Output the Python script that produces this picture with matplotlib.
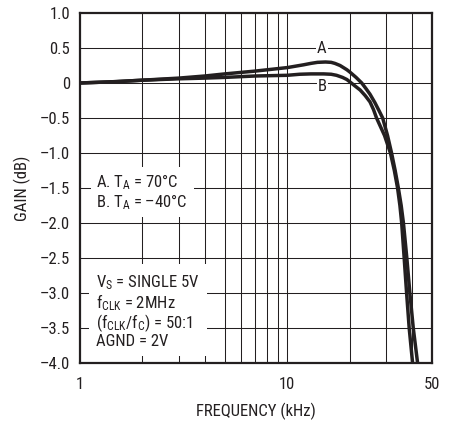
import matplotlib
matplotlib.use("Agg")
import matplotlib.pyplot as plt
from matplotlib import font_manager
from matplotlib.ticker import FixedLocator, NullFormatter

# pick a condensed sans, similar to the datasheet face
names = {f.name for f in font_manager.fontManager.ttflist}
prefs = ["Liberation Sans Narrow", "Roboto Condensed", "Archivo Narrow", "PT Sans Narrow",
         "IBM Plex Sans Condensed", "Fira Sans Condensed", "Sofia Sans Semi Condensed",
         "Sofia Sans Condensed", "Liberation Sans"]
FONT = next(p for p in prefs if p in names or p == "Liberation Sans")
plt.rcParams["font.family"] = [FONT, "DejaVu Sans"]
plt.rcParams["mathtext.fontset"] = "custom"
plt.rcParams["mathtext.rm"] = FONT
plt.rcParams["mathtext.it"] = FONT

INK = "#231f20"
FS = 12
MINUS = "\u2013"

# curve A: TA = 70C
freq_a = [1, 1.5, 2, 3, 4, 5, 7, 10, 12, 13, 14, 15.3, 16.3, 17, 18, 19.4, 20, 21.5, 22.9,
          24.0, 25.1, 26.5, 27.8, 28.9, 30.5, 31.9, 33.2, 34.4, 35.5, 36.4, 37.8, 39.1,
          40.6, 42.6]
gain_a = [0.0, 0.02, 0.04, 0.07, 0.10, 0.13, 0.17, 0.22, 0.26, 0.28, 0.295, 0.30, 0.295,
          0.28, 0.25, 0.19, 0.16, 0.08, 0.0, -0.08, -0.16, -0.28, -0.4, -0.5, -0.75, -1.0,
          -1.25, -1.5, -1.75, -2.0, -2.5, -3.0, -3.5, -4.0]

# curve B: TA = -40C
freq_b = [1, 1.5, 2, 3, 4, 5, 7, 10, 11.5, 13, 15, 16.3, 17.3, 18.5, 19.4, 20, 21.2, 22.5,
          23.8, 25.1, 26.1, 27.0, 29.5, 31.5, 32.9, 34.1, 35.0, 35.7, 36.7, 37.7, 38.8,
          40.3]
gain_b = [0.0, 0.02, 0.04, 0.06, 0.07, 0.08, 0.10, 0.11, 0.125, 0.13, 0.13, 0.125, 0.11,
          0.08, 0.05, 0.02, -0.04, -0.1, -0.18, -0.27, -0.38, -0.5, -0.75, -1.0, -1.25,
          -1.5, -1.75, -2.0, -2.5, -3.0, -3.5, -4.0]

y_ticks = [1.0, 0.5, 0, -0.5, -1.0, -1.5, -2.0, -2.5, -3.0, -3.5, -4.0]
y_labels = ["1.0", "0.5", "0"] + [MINUS + f"{abs(v):.1f}" for v in y_ticks[3:]]
x_ticks = [1, 10, 50]
x_labels = ["1", "10", "50"]
x_grid = [2, 3, 4, 5, 6, 7, 8, 9, 10, 20, 30, 40]

legend_text = ("A. T$_\\mathregular{A}$ = 70\u00b0C\n"
               "B. T$_\\mathregular{A}$ = " + MINUS + "40\u00b0C")
cond_text = ("V$_\\mathregular{S}$ = SINGLE 5V\n"
             "f$_\\mathregular{CLK}$ = 2MHz\n"
             "(f$_\\mathregular{CLK}$/f$_\\mathregular{C}$) = 50:1\n"
             "AGND = 2V")

fig = plt.figure(figsize=(4.57, 4.21), dpi=100)
ax = fig.add_axes([80 / 457, 58 / 421, 352 / 457, 350 / 421])

ax.set_xscale("log")
ax.set_xlim(1, 50)
ax.set_ylim(-4.0, 1.0)

# grid
for gx in x_grid:
    ax.axvline(gx, color=INK, lw=0.75, zorder=1)
for gy in y_ticks[1:-1]:
    ax.axhline(gy, color=INK, lw=0.75, zorder=1)

ax.plot(freq_a, gain_a, color=INK, lw=2.5, zorder=4, solid_joinstyle="round")
ax.plot(freq_b, gain_b, color=INK, lw=2.5, zorder=4, solid_joinstyle="round")

ax.xaxis.set_major_locator(FixedLocator(x_ticks))
ax.xaxis.set_minor_locator(FixedLocator([]))
ax.xaxis.set_minor_formatter(NullFormatter())
ax.set_xticklabels(x_labels)
ax.set_yticks(y_ticks)
ax.set_yticklabels(y_labels)
ax.tick_params(axis="both", which="both", length=0, labelsize=FS, colors=INK)
ax.tick_params(axis="x", pad=10)
ax.tick_params(axis="y", pad=7)

for s in ax.spines.values():
    s.set_linewidth(1.6)
    s.set_color(INK)

ax.set_xlabel("FREQUENCY (kHz)", fontsize=FS, color=INK, labelpad=8)
ax.set_ylabel("GAIN (dB)", fontsize=FS, color=INK)
ax.yaxis.set_label_coords(-49 / 352, 0.5)

# curve labels
ax.text(14.7, 0.49, "A", ha="center", va="center", fontsize=FS, color=INK, zorder=5,
        bbox=dict(fc="white", ec="none", pad=1))
ax.text(14.8, -0.05, "B", ha="center", va="center", fontsize=FS, color=INK, zorder=5,
        bbox=dict(fc="white", ec="none", pad=1))

ax.text(1.2, -1.56, legend_text, ha="left", va="center", fontsize=FS, color=INK,
        linespacing=1.0, zorder=5, bbox=dict(fc="white", ec="none", pad=4))
ax.text(1.2, -3.26, cond_text, ha="left", va="center", fontsize=FS, color=INK,
        linespacing=1.0, zorder=5, bbox=dict(fc="white", ec="none", pad=5))

fig.savefig("out.png", dpi=100)
